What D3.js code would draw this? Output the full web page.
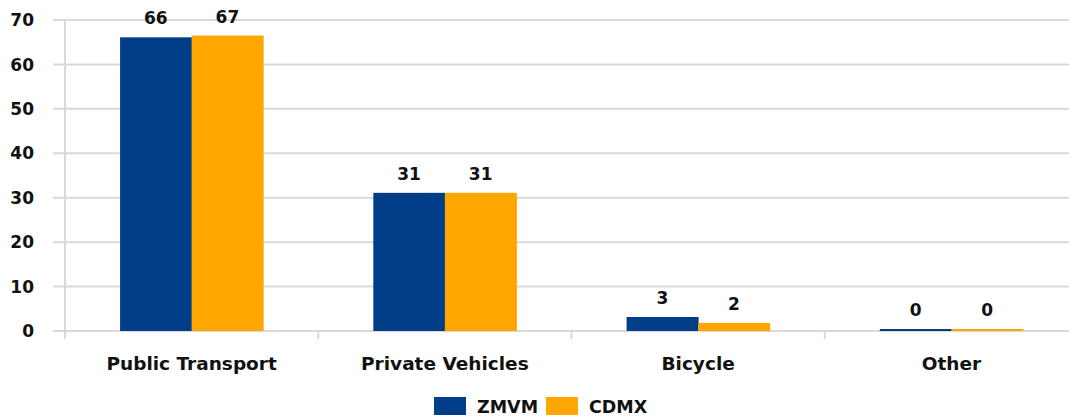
<!DOCTYPE html>
<html>
<head>
<meta charset="utf-8">
<script src="https://cdn.jsdelivr.net/npm/d3@7"></script>
<style>
  body { margin: 0; background: #fff; }
  svg text { font-family: "DejaVu Sans", sans-serif; font-weight: 700; fill: #111; }
</style>
</head>
<body>
<div id="chart"></div>
<script>
// data
const categories = ["Public Transport", "Private Vehicles", "Bicycle", "Other"];
const seriesNames = ["ZMVM", "CDMX"];
const zmvm = [66.1, 31.1, 3.15, 0.45];
const cdmx = [66.5, 31.1, 1.8, 0.45];
const yTicks = [0, 10, 20, 30, 40, 50, 60, 70];
const colors = ["#003f87", "#ffa600"];

const width = 1069, height = 420;
const margin = { left: 65, top: 20, bottom: 89 };
const plotRight = 1078;

const svg = d3.select("#chart").append("svg")
    .attr("width", width)
    .attr("height", height);

const x = d3.scaleBand()
    .domain(categories)
    .range([margin.left, plotRight])
    .paddingInner(0)
    .paddingOuter(0);

const x1 = d3.scaleBand()
    .domain(seriesNames)
    .range([0, x.bandwidth()])
    .paddingOuter(0.77)
    .paddingInner(0);

const y = d3.scaleLinear()
    .domain([0, 70])
    .range([height - margin.bottom, margin.top]);

// gridlines
svg.append("g")
    .selectAll("line")
    .data(yTicks)
    .enter()
    .append("line")
    .attr("x1", margin.left - 12)
    .attr("x2", width)
    .attr("y1", d => y(d))
    .attr("y2", d => y(d))
    .attr("stroke", "#d9d9d9")
    .attr("stroke-width", 2);

// y axis line
svg.append("line")
    .attr("x1", margin.left).attr("x2", margin.left)
    .attr("y1", y(70)).attr("y2", y(0) + 8)
    .attr("stroke", "#d9d9d9")
    .attr("stroke-width", 2);

// category ticks
svg.append("g")
    .selectAll("line")
    .data(categories.slice(1))
    .enter()
    .append("line")
    .attr("x1", d => x(d)).attr("x2", d => x(d))
    .attr("y1", y(0)).attr("y2", y(0) + 8)
    .attr("stroke", "#d9d9d9")
    .attr("stroke-width", 2);

// y tick labels
svg.append("g")
    .selectAll("text")
    .data(yTicks)
    .enter()
    .append("text")
    .attr("x", 34)
    .attr("y", d => y(d))
    .attr("dy", "0.36em")
    .attr("text-anchor", "end")
    .style("font-size", "17px")
    .text(d => d);

// bars
const rows = categories.map((c, i) => ({ cat: c, vals: [zmvm[i], cdmx[i]] }));

const groups = svg.append("g")
    .selectAll("g")
    .data(rows)
    .enter()
    .append("g")
    .attr("transform", d => `translate(${x(d.cat)},0)`);

groups.selectAll("rect")
    .data(d => d.vals.map((v, j) => ({ name: seriesNames[j], v: v, j: j })))
    .enter()
    .append("rect")
    .attr("x", d => x1(d.name))
    .attr("width", x1.bandwidth() + 0.5)
    .attr("y", d => y(d.v))
    .attr("height", d => y(0) - y(d.v))
    .attr("fill", d => colors[d.j]);

groups.selectAll("text")
    .data(d => d.vals.map((v, j) => ({ name: seriesNames[j], v: v })))
    .enter()
    .append("text")
    .attr("x", d => x1(d.name) + x1.bandwidth() / 2)
    .attr("y", d => y(d.v) - 13)
    .attr("text-anchor", "middle")
    .style("font-size", "17px")
    .text(d => Math.round(d.v));

// category labels
svg.append("g")
    .selectAll("text")
    .data(categories)
    .enter()
    .append("text")
    .attr("x", d => x(d) + x.bandwidth() / 2)
    .attr("y", 370)
    .attr("text-anchor", "middle")
    .style("font-size", "18.5px")
    .text(d => d);

// legend
const legend = svg.append("g");
const legendX = [434, 546];
seriesNames.forEach((name, i) => {
    legend.append("rect")
        .attr("x", legendX[i])
        .attr("y", 397)
        .attr("width", 32)
        .attr("height", 18)
        .attr("fill", colors[i]);
    legend.append("text")
        .attr("x", legendX[i] + 43)
        .attr("y", 413)
        .style("font-size", "17.5px")
        .text(name);
});
</script>
</body>
</html>
